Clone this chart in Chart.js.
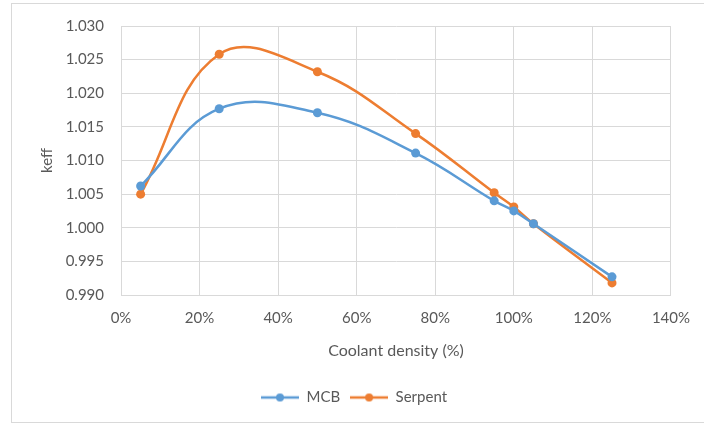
<!DOCTYPE html>
<html>
<head>
<meta charset="utf-8">
<script src="https://cdn.jsdelivr.net/npm/chart.js@4"></script>
<style>
  html, body { margin:0; padding:0; background:#fff; }
  #wrap { position:relative; width:704px; height:426px; }
  #frame { position:absolute; left:11px; top:3px; width:700px; height:420px; border:1px solid #d9d9d9; box-sizing:border-box; }
  canvas { position:absolute; left:0; top:0; }
</style>
</head>
<body>
<div id="wrap">
  <div id="frame"></div>
  <canvas id="c" width="704" height="426"></canvas>
</div>
<script>
const densities = [5, 25, 50, 75, 95, 100, 105, 125];
const mcb =     [1.0062, 1.0177, 1.0171, 1.0111, 1.0040, 1.0025, 1.0006, 0.9927];
const serpent = [1.0050, 1.0258, 1.0232, 1.0140, 1.0052, 1.0031, 1.0006, 0.9918];
const seriesNames = ['MCB', 'Serpent'];
const xTitle = 'Coolant density (%)';
const yTitle = 'keff';

const colors = ['#5b9bd5', '#ed7d31'];
const toPts = (vals) => densities.map((d, i) => ({ x: d, y: vals[i] }));
const textColor = '#595959';
const gridColor = '#d9d9d9';
const fontFam = 'Lato, "Open Sans", sans-serif';

function legendIcon(color) {
  const c = document.createElement('canvas');
  c.width = 38; c.height = 10;
  const g = c.getContext('2d');
  g.strokeStyle = color; g.lineWidth = 2.5;
  g.beginPath(); g.moveTo(0, 5); g.lineTo(38, 5); g.stroke();
  g.fillStyle = color;
  g.beginPath(); g.arc(19, 5, 4, 0, Math.PI * 2); g.fill();
  return c;
}
const icons = colors.map(legendIcon);

const shiftLegend = {
  id: 'shiftLegend',
  afterLayout(chart) {
    const lg = chart.legend;
    if (lg) { lg.left += 18; lg.right += 18; }
  }
};

new Chart(document.getElementById('c'), {
  type: 'line',
  data: {
    datasets: [
      { label: seriesNames[0], data: toPts(mcb), borderColor: colors[0], backgroundColor: colors[0],
        borderWidth: 2.5, pointRadius: 4.5, pointBorderWidth: 0, tension: 0.4, fill: false },
      { label: seriesNames[1], data: toPts(serpent), borderColor: colors[1], backgroundColor: colors[1],
        borderWidth: 2.5, pointRadius: 4.5, pointBorderWidth: 0, tension: 0.4, fill: false }
    ]
  },
  plugins: [shiftLegend],
  options: {
    responsive: false,
    animation: false,
    devicePixelRatio: 1,
    layout: { padding: { left: 0, right: 32, top: 25, bottom: 11 } },
    plugins: {
      tooltip: { enabled: false },
      legend: {
        position: 'bottom',
        labels: {
          color: textColor,
          font: { family: fontFam, size: 15 },
          usePointStyle: true,
          pointStyleWidth: 38,
          boxHeight: 10,
          padding: 10,
          generateLabels: (chart) => chart.data.datasets.map((ds, i) => ({
            text: ds.label, pointStyle: icons[i], fillStyle: ds.borderColor,
            strokeStyle: ds.borderColor, lineWidth: 0, hidden: false, datasetIndex: i,
            fontColor: textColor
          }))
        }
      }
    },
    scales: {
      x: {
        type: 'linear', min: 0, max: 140,
        grid: { color: gridColor, drawTicks: false },
        border: { color: gridColor },
        ticks: { stepSize: 20, color: textColor, font: { family: fontFam, size: 15 }, padding: 14,
          callback: v => v + '%' },
        title: { display: true, text: xTitle, color: textColor, font: { family: fontFam, size: 16 },
          padding: { top: 0, bottom: 20 } },
        afterFit: s => { s.height = 85; }
      },
      y: {
        min: 0.990, max: 1.030,
        grid: { color: gridColor, drawTicks: false },
        border: { color: gridColor },
        ticks: { stepSize: 0.005, color: textColor, font: { family: fontFam, size: 15 }, padding: 17,
          callback: v => v.toFixed(3) },
        title: { display: true, text: yTitle, color: textColor, font: { family: fontFam, size: 15 },
          padding: { top: 38, bottom: 0 } },
        afterFit: s => { s.width = 121; }
      }
    }
  }
});
</script>
</body>
</html>
